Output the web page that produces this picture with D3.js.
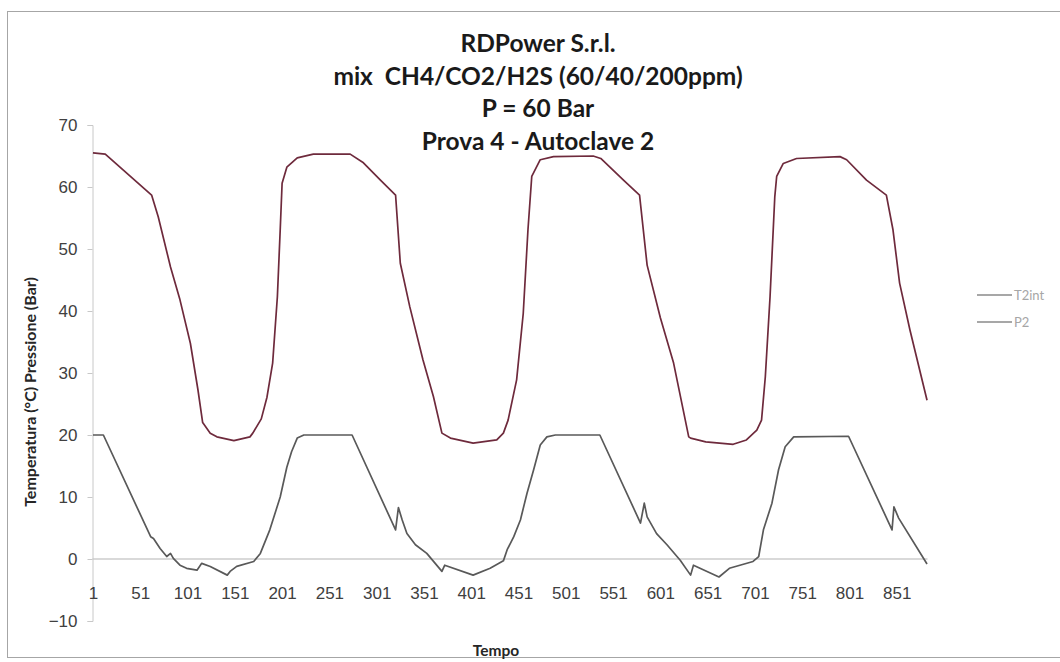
<!DOCTYPE html>
<html>
<head>
<meta charset="utf-8">
<script src="https://cdn.jsdelivr.net/npm/d3@7"></script>
<style>
  body { margin: 0; background: #fff; }
  svg { display: block; font-family: Lato, "Open Sans", sans-serif; }
</style>
</head>
<body>
<div id="grafico"></div>
<script>
// -----------------------------
// Dati (Tempo = indice della misura)
// -----------------------------
const etichetteTempo = ["1", "51", "101", "151", "201", "251", "301", "351", "401",
  "451", "501", "551", "601", "651", "701", "751", "801", "851"];
const ultimoTempo = 883;

// P2 (pressione, Bar)
const p2Tempo = [1, 14, 63, 70, 83, 93, 104, 112, 117, 125, 132, 150, 167, 170, 179, 185,
  191, 196, 199, 201, 206, 217, 234, 273, 287, 305, 321,
  326, 336, 350, 361, 370, 379, 403, 428, 435, 440, 449, 456, 461, 465, 474, 488, 530,
  538, 562, 579,
  587, 601, 615, 631, 633, 649, 678, 692, 703, 708, 712, 717, 722, 724, 731, 745, 791,
  798, 819, 840, 847, 854, 865, 883];
const p2Valori = [65.5, 65.3, 58.7, 55.2, 47.1, 41.8, 34.8, 27.3, 22.0, 20.3, 19.7, 19.1, 19.7, 20.3, 22.6, 26.1,
  31.6, 42.3, 53.1, 60.6, 63.2, 64.7, 65.3, 65.3, 63.9, 61.1, 58.7,
  47.7, 40.7, 32.1, 26.2, 20.3, 19.5, 18.7, 19.2, 20.3, 22.4, 28.9, 39.6, 53.1, 61.7, 64.4, 64.9, 65.0,
  64.6, 61.1, 58.7,
  47.4, 38.9, 31.6, 19.7, 19.5, 18.9, 18.5, 19.2, 20.8, 22.4, 29.4, 42.3, 58.4, 61.7, 63.8, 64.6, 64.9,
  64.4, 61.1, 58.7, 53.1, 44.5, 36.9, 25.6];

// T2int (temperatura, gradi C)
const t2Tempo = [1, 12, 62, 65, 72, 79, 83, 86, 93, 100, 111, 116, 125, 143, 146, 153, 171, 178,
  188, 199, 206, 211, 217, 224, 275,
  321, 324, 328, 333, 342, 354, 370, 373, 403, 421, 435, 439, 446, 453, 460, 467, 474, 481, 490, 537,
  580, 584, 587, 597, 608, 622, 633, 636, 663, 674, 699, 705, 710, 719, 726, 733, 742, 800,
  846, 848, 853, 883];
const t2Valori = [20.0, 20.0, 3.6, 3.3, 1.7, 0.4, 0.9, 0.1, -1.0, -1.5, -1.8, -0.7, -1.2, -2.6, -2.0, -1.2, -0.4, 0.9,
  4.7, 10.0, 14.8, 17.3, 19.5, 20.0, 20.0,
  4.7, 8.3, 6.3, 4.1, 2.3, 0.9, -2.0, -1.0, -2.6, -1.5, -0.3, 1.5, 3.6, 6.3, 10.6, 14.4, 18.4, 19.7, 20.0, 20.0,
  5.8, 9.0, 6.8, 4.1, 2.3, -0.2, -2.6, -1.0, -2.9, -1.5, -0.4, 0.4, 4.7, 9.0, 14.4, 18.1, 19.7, 19.8,
  4.7, 8.4, 6.6, -0.8];

const titolo = ["RDPower S.r.l.", "mix  CH4/CO2/H2S (60/40/200ppm)", "P = 60 Bar", "Prova 4 - Autoclave 2"];

// -----------------------------
// Disegno
// -----------------------------
const width = 1060;
const height = 662;
const area = { left: 92.5, right: 927.5, top: 125, bottom: 621 };

const svg = d3.select("#grafico")
  .append("svg")
  .attr("width", width)
  .attr("height", height);

// cornice esterna
svg.append("rect")
  .attr("x", 7.5).attr("y", 11.5)
  .attr("width", 1070).attr("height", 646)
  .attr("fill", "#fff")
  .attr("stroke", "#a6a6a6");

const x = d3.scaleLinear()
  .domain([0.5, ultimoTempo + 0.5])
  .range([area.left, area.right]);

const y = d3.scaleLinear()
  .domain([-10, 70])
  .range([area.bottom, area.top]);

// linea dello zero
svg.append("line")
  .attr("x1", area.left).attr("x2", area.right)
  .attr("y1", y(0)).attr("y2", y(0))
  .attr("stroke", "#d9d9d9")
  .attr("stroke-width", 2);

// asse Y
const assey = svg.append("g")
  .attr("transform", `translate(${area.left},0)`)
  .call(d3.axisLeft(y).tickValues(d3.range(-10, 71, 10)).tickSize(5).tickPadding(10));
assey.select(".domain").attr("stroke", "#c8c8c8");
assey.selectAll(".tick line").attr("stroke", "#c8c8c8");
assey.selectAll(".tick text")
  .attr("fill", "#404040")
  .style("font-size", "17px");

// asse X (etichette in basso)
const assex = svg.append("g")
  .attr("transform", `translate(0,${area.bottom - 40})`)
  .call(d3.axisBottom(x)
    .tickValues(etichetteTempo.map(Number))
    .tickFormat((d) => etichetteTempo.find((e) => +e === d))
    .tickSize(0)
    .tickPadding(6));
assex.select(".domain").remove();
assex.selectAll(".tick text")
  .attr("fill", "#404040")
  .style("font-size", "17px");

// serie
const linea = d3.line()
  .x((d) => x(d[0]))
  .y((d) => y(d[1]));

const serieT2 = t2Tempo.map((t, i) => [t, t2Valori[i]]);
const serieP2 = p2Tempo.map((t, i) => [t, p2Valori[i]]);

svg.append("path")
  .datum(serieT2)
  .attr("d", linea)
  .attr("fill", "none")
  .attr("stroke", "#595959")
  .attr("stroke-width", 1.7)
  .attr("stroke-linejoin", "round");

svg.append("path")
  .datum(serieP2)
  .attr("d", linea)
  .attr("fill", "none")
  .attr("stroke", "#6e2a3c")
  .attr("stroke-width", 1.7)
  .attr("stroke-linejoin", "round");

// titolo
svg.append("g")
  .selectAll("text")
  .data(titolo)
  .enter()
  .append("text")
  .attr("x", 538)
  .attr("y", (d, i) => 52 + i * 32.7)
  .attr("text-anchor", "middle")
  .attr("fill", "#1a1a1a")
  .style("font-size", "24.5px")
  .style("font-weight", "bold")
  .style("white-space", "pre")
  .text((d) => d);

// titoli degli assi
svg.append("text")
  .attr("x", 496)
  .attr("y", 656)
  .attr("text-anchor", "middle")
  .attr("fill", "#262626")
  .style("font-size", "15.5px")
  .style("font-weight", "bold")
  .text("Tempo");

svg.append("text")
  .attr("transform", "translate(36,392) rotate(-90)")
  .attr("text-anchor", "middle")
  .attr("fill", "#262626")
  .style("font-size", "16px")
  .style("font-weight", "bold")
  .text("Temperatura (\u00B0C) Pressione (Bar)");

// legenda
const legenda = [["T2int", "#8a8a8a"], ["P2", "#8a8a8a"]];
const voci = svg.append("g")
  .selectAll("g")
  .data(legenda)
  .enter()
  .append("g")
  .attr("transform", (d, i) => `translate(977,${295 + i * 27})`);
voci.append("line")
  .attr("x1", 0).attr("x2", 35)
  .attr("stroke", (d) => d[1])
  .attr("stroke-width", 1.5);
voci.append("text")
  .attr("x", 37)
  .attr("dy", "0.35em")
  .attr("fill", "#a6a6a6")
  .style("font-size", "13px")
  .text((d) => d[0]);
</script>
</body>
</html>
